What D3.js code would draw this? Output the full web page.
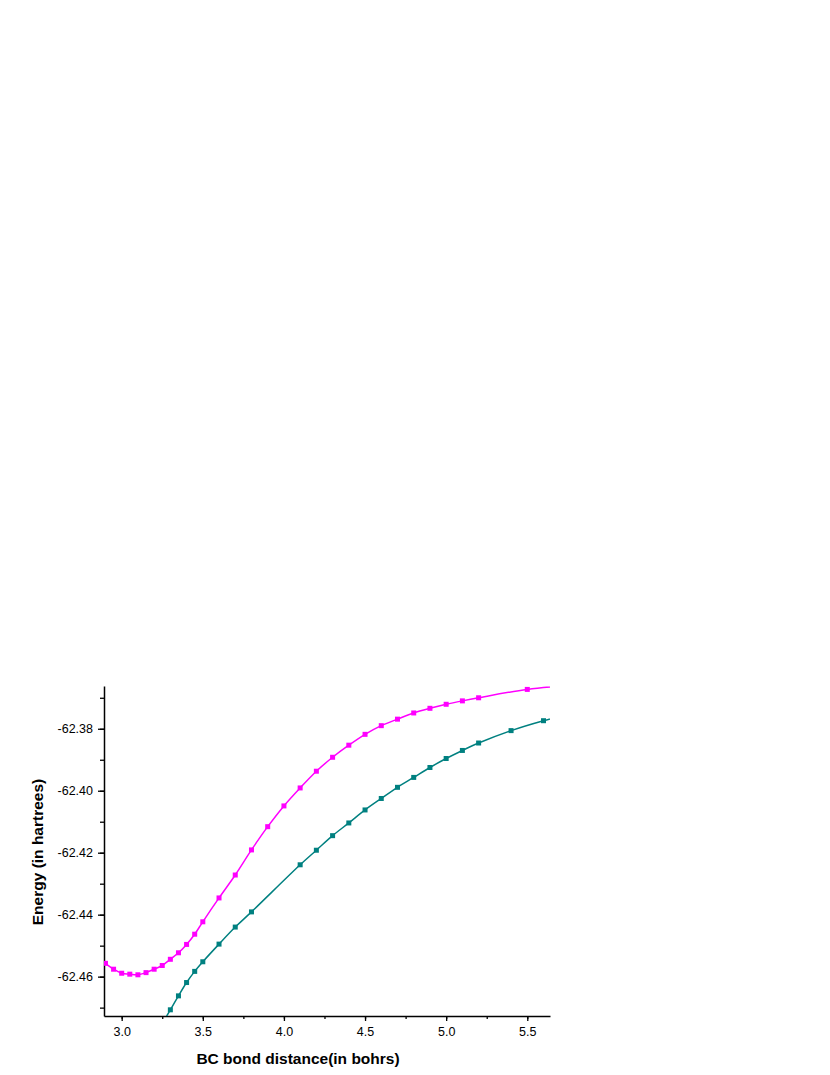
<!DOCTYPE html>
<meta charset="utf-8">
<script src="https://d3js.org/d3.v7.min.js"></script>
<style>
  body { margin: 0; background: #fff; }
  text { font-family: "Liberation Sans", Arial, sans-serif; }
</style>
<div id="my_dataviz"></div>
<script>

// bond distances (bohr) and energies (hartree)
var upperX = [2.9, 2.95, 3.0, 3.05, 3.1, 3.15, 3.2, 3.25, 3.3, 3.35, 3.4, 3.45, 3.5, 3.6, 3.7, 3.8, 3.9, 4.0, 4.1, 4.2, 4.3, 4.4, 4.5, 4.6, 4.7, 4.8, 4.9, 5.0, 5.1, 5.2, 5.5, 5.8];
var upperE = [-62.4557, -62.4576, -62.4589, -62.4592, -62.4594, -62.4587, -62.4576, -62.4564, -62.4544, -62.4523, -62.4496, -62.4463, -62.4423, -62.4346, -62.4272, -62.4191, -62.4116, -62.4049, -62.3991, -62.3937, -62.3892, -62.3853, -62.3818, -62.3790, -62.3769, -62.3749, -62.3734, -62.3721, -62.3710, -62.3700, -62.3673, -62.3659];

var lowerX = [3.25, 3.3, 3.35, 3.4, 3.45, 3.5, 3.6, 3.7, 3.8, 4.1, 4.2, 4.3, 4.4, 4.5, 4.6, 4.7, 4.8, 4.9, 5.0, 5.1, 5.2, 5.4, 5.6, 5.8];
var lowerE = [-62.4752, -62.4707, -62.4662, -62.4619, -62.4583, -62.4552, -62.4495, -62.4440, -62.4391, -62.4239, -62.4192, -62.4145, -62.4104, -62.4062, -62.4025, -62.3989, -62.3957, -62.3925, -62.3896, -62.3870, -62.3846, -62.3806, -62.3774, -62.3748];

var xTicks = [3.0, 3.5, 4.0, 4.5, 5.0, 5.5];
var yTicks = [-62.38, -62.40, -62.42, -62.44, -62.46];

var margin = {top: 686, left: 104},
    width = 446,
    height = 330;

var svg = d3.select("#my_dataviz")
  .append("svg")
    .attr("width", 830)
    .attr("height", 1075)
  .append("g")
    .attr("transform", "translate(" + margin.left + "," + margin.top + ")");

var x = d3.scaleLinear().domain([2.891, 5.640]).range([0, width]);
var y = d3.scaleLinear().domain([-62.4727, -62.3662]).range([height, 0]);

svg.append("clipPath").attr("id", "clip")
  .append("rect").attr("width", width).attr("height", height);

// plain hyphen instead of d3's unicode minus
var fmt = function(spec) {
  var f = d3.format(spec);
  return function(d){ return f(d).replace("\u2212", "-"); };
};

// minor ticks
var xMinor = d3.range(2.75, 5.76, 0.25).filter(function(v){ return x(v) >= 0 && x(v) <= width; });
var yMinor = d3.range(-62.47, -62.365, 0.01).filter(function(v){ return y(v) >= 0 && y(v) <= height; });

svg.append("g")
  .attr("transform", "translate(0," + height + ")")
  .call(d3.axisBottom(x).tickValues(xMinor).tickSize(3).tickFormat("").tickSizeOuter(0))
  .call(function(g){ g.select(".domain").remove(); })
  .selectAll("line").attr("stroke-width", 1.3);

svg.append("g")
  .call(d3.axisLeft(y).tickValues(yMinor).tickSize(4).tickFormat("").tickSizeOuter(0))
  .call(function(g){ g.select(".domain").remove(); })
  .selectAll("line").attr("stroke-width", 1.3);

// major axes
var xAxis = svg.append("g")
  .attr("transform", "translate(0," + height + ")")
  .call(d3.axisBottom(x).tickValues(xTicks).tickFormat(fmt(".1f")).tickSize(5).tickSizeOuter(0).tickPadding(6));
xAxis.select(".domain").attr("stroke-width", 1.5);
xAxis.selectAll("line").attr("stroke-width", 1.3);
xAxis.selectAll("text").style("font-size", "12.5px").attr("fill", "#000");

var yAxis = svg.append("g")
  .call(d3.axisLeft(y).tickValues(yTicks).tickFormat(fmt(".2f")).tickSize(6).tickSizeOuter(0).tickPadding(5));
yAxis.select(".domain").attr("stroke-width", 1.5);
yAxis.selectAll("line").attr("stroke-width", 1.3);
yAxis.selectAll("text").style("font-size", "12.5px").attr("fill", "#000");

// curves
var series = [
  {xs: upperX, es: upperE, color: "#ff00ff"},
  {xs: lowerX, es: lowerE, color: "#008080"}
];

var line = d3.line()
  .x(function(d){ return x(d[0]); })
  .y(function(d){ return y(d[1]); })
  .curve(d3.curveCatmullRom);

var plot = svg.append("g").attr("clip-path", "url(#clip)");

series.forEach(function(s){
  var pts = s.xs.map(function(v, i){ return [v, s.es[i]]; });
  plot.append("path")
    .datum(pts)
    .attr("fill", "none")
    .attr("stroke", s.color)
    .attr("stroke-width", 1.5)
    .attr("d", line);
  plot.selectAll(null)
    .data(pts)
    .enter().append("rect")
      .attr("x", function(d){ return x(d[0]) - 2.5; })
      .attr("y", function(d){ return y(d[1]) - 2.5; })
      .attr("width", 5)
      .attr("height", 5)
      .attr("fill", s.color);
});

// axis titles
svg.append("text")
  .attr("transform", "rotate(-90)")
  .attr("x", -166)
  .attr("y", -61)
  .style("text-anchor", "middle")
  .style("font-size", "15.5px")
  .style("font-weight", "bold")
  .text("Energy (in hartrees)");

svg.append("text")
  .attr("x", 298 - margin.left)
  .attr("y", height + 48)
  .style("text-anchor", "middle")
  .style("font-size", "15.5px")
  .style("font-weight", "bold")
  .text("BC bond distance(in bohrs)");

</script>
